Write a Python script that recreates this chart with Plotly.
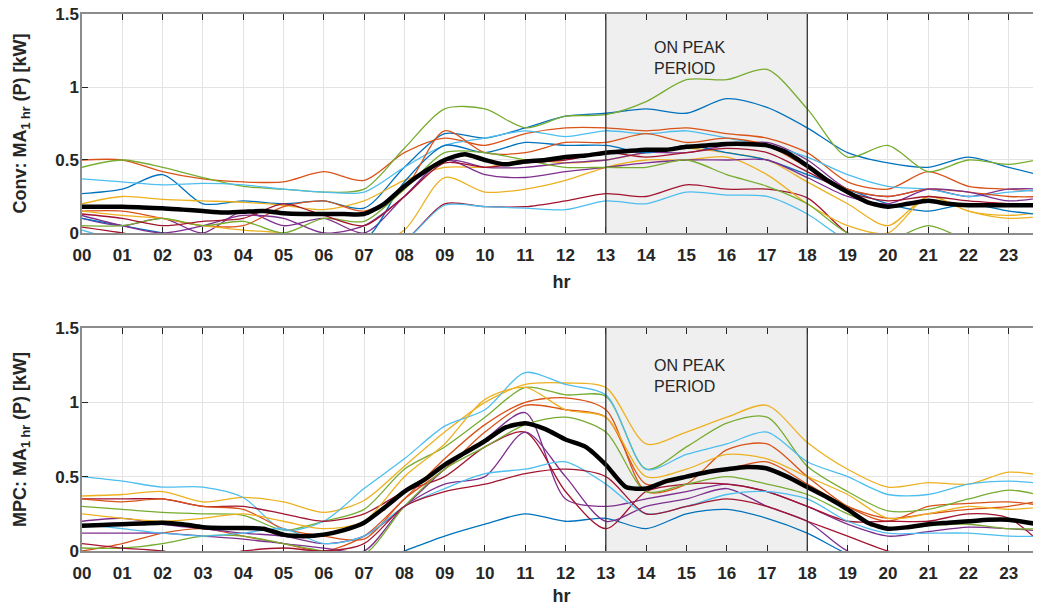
import plotly.graph_objects as go
from plotly.subplots import make_subplots

# ---------------- data ----------------
hours = list(range(25))                      # hourly sample points for individual traces
half_hours = [i * 0.5 for i in range(49)]    # half-hour sample points for the mean
tick_vals = list(range(24))
tick_text = [f"{h:02d}" for h in range(24)]

colors = ["#0072BD", "#D95319", "#EDB120", "#7E2F8E", "#77AC30", "#4DBEEE", "#A2142F"]

# Conventional control – individual households (hourly values, kW)
conv_blue1   = [0.27,0.30,0.40,0.20,0.22,0.20,0.22,0.17,0.45,0.68,0.65,0.72,0.80,0.82,0.85,0.82,0.92,0.86,0.72,0.55,0.48,0.45,0.52,0.45,0.38]
conv_orange1 = [0.50,0.50,0.42,0.37,0.35,0.35,0.42,0.36,0.55,0.65,0.60,0.68,0.72,0.72,0.70,0.72,0.68,0.65,0.55,0.35,0.30,0.42,0.32,0.30,0.28]
conv_yellow1 = [0.20,0.25,0.23,0.22,0.21,0.19,0.16,0.22,0.36,0.45,0.45,0.50,0.48,0.50,0.55,0.58,0.55,0.50,0.35,0.20,0.05,0.25,0.15,0.12,0.15]
conv_purple1 = [0.10,0.05,0.10,0.00,0.15,0.05,0.10,0.00,0.25,0.50,0.45,0.45,0.48,0.50,0.55,0.55,0.60,0.62,0.50,0.30,0.25,0.30,0.25,0.30,0.30]
conv_green1  = [0.45,0.50,0.45,0.38,0.32,0.30,0.28,0.30,0.58,0.85,0.85,0.72,0.80,0.81,0.90,1.05,1.05,1.12,0.85,0.52,0.60,0.42,0.50,0.47,0.52]
conv_lblue1  = [0.37,0.35,0.33,0.34,0.33,0.30,0.28,0.28,0.45,0.60,0.65,0.70,0.66,0.70,0.68,0.70,0.65,0.60,0.52,0.40,0.32,0.30,0.25,0.28,0.30]
conv_red1    = [0.04,0.00,-0.05,-0.05,-0.08,-0.08,-0.08,-0.10,-0.05,0.20,0.18,0.18,0.22,0.27,0.25,0.33,0.30,0.30,0.24,0.00,-0.10,-0.10,-0.10,-0.10,-0.10]
conv_blue2   = [0.10,0.05,0.00,-0.05,-0.05,-0.05,-0.05,-0.05,0.35,0.60,0.55,0.62,0.60,0.60,0.55,0.60,0.55,0.50,0.40,0.30,0.20,0.15,0.20,0.15,0.12]
conv_orange2 = [0.15,0.15,0.10,0.05,0.05,0.18,0.22,0.15,0.30,0.70,0.55,0.55,0.62,0.62,0.68,0.62,0.65,0.60,0.45,0.30,0.25,0.30,0.28,0.25,0.25]
conv_yellow2 = [0.15,0.12,0.10,0.05,0.02,0.00,-0.05,-0.10,0.02,0.38,0.28,0.30,0.36,0.45,0.50,0.50,0.52,0.40,0.20,0.05,0.00,0.25,0.15,0.10,0.12]
conv_purple2 = [0.12,0.05,0.00,0.05,0.12,0.10,0.00,0.05,0.25,0.50,0.40,0.38,0.42,0.45,0.48,0.50,0.50,0.50,0.38,0.25,0.20,0.30,0.28,0.22,0.25]
conv_green2  = [0.05,0.05,0.10,0.05,0.08,0.00,0.10,0.08,0.30,0.55,0.55,0.50,0.45,0.45,0.45,0.50,0.40,0.32,0.20,0.00,-0.05,0.05,-0.05,-0.10,-0.10]
conv_lblue2  = [0.02,-0.05,-0.05,-0.10,-0.10,-0.10,-0.10,-0.10,-0.05,0.19,0.18,0.17,0.16,0.22,0.20,0.28,0.26,0.25,0.13,-0.05,-0.10,-0.10,-0.10,-0.10,-0.10]
conv_red2    = [0.13,0.10,0.05,0.08,0.10,0.20,0.12,0.05,0.25,0.48,0.45,0.48,0.50,0.55,0.52,0.55,0.58,0.55,0.42,0.28,0.22,0.25,0.22,0.20,0.18]

conv_series = [conv_blue1, conv_orange1, conv_yellow1, conv_purple1, conv_green1, conv_lblue1, conv_red1,
               conv_blue2, conv_orange2, conv_yellow2, conv_purple2, conv_green2, conv_lblue2, conv_red2]

conv_mean = [0.18,0.18,0.18,0.175,0.17,0.16,0.15,0.14,0.145,0.15,0.135,0.13,0.13,0.13,0.13,0.20,
             0.32,0.42,0.50,0.54,0.50,0.47,0.49,0.50,0.52,0.53,0.55,0.56,0.57,0.57,0.59,0.60,
             0.61,0.61,0.60,0.55,0.46,0.36,0.28,0.21,0.18,0.20,0.22,0.20,0.19,0.19,0.19,0.19,0.19]

# MPC control – individual households (hourly values, kW)
mpc_blue1   = [-0.10,-0.10,-0.10,-0.10,-0.10,-0.10,-0.10,-0.10,0.00,0.10,0.18,0.25,0.20,0.22,0.15,0.25,0.28,0.22,0.12,-0.02,-0.10,-0.10,-0.10,-0.10,-0.10]
mpc_orange1 = [0.00,0.05,0.12,0.15,0.10,0.05,0.00,0.10,0.35,0.62,0.85,1.00,1.03,0.95,0.40,0.45,0.68,0.72,0.50,0.30,0.20,0.30,0.32,0.33,0.30]
mpc_yellow1 = [0.37,0.38,0.40,0.33,0.36,0.33,0.26,0.34,0.57,0.80,1.00,1.12,1.13,1.10,0.72,0.80,0.90,0.98,0.73,0.55,0.43,0.46,0.45,0.53,0.50]
mpc_purple1 = [0.20,0.22,0.18,0.15,0.12,0.10,0.05,0.10,0.30,0.55,0.75,0.93,0.35,0.30,0.35,0.40,0.45,0.40,0.30,0.18,0.10,0.13,0.16,0.15,0.13]
mpc_green1  = [0.30,0.28,0.26,0.25,0.24,0.14,0.20,0.28,0.55,0.70,0.90,1.10,1.05,1.04,0.55,0.70,0.86,0.90,0.57,0.40,0.27,0.28,0.35,0.41,0.36]
mpc_lblue1  = [0.50,0.47,0.43,0.43,0.36,0.14,0.20,0.42,0.62,0.84,0.95,1.20,1.12,1.05,0.55,0.65,0.72,0.80,0.60,0.50,0.38,0.38,0.45,0.47,0.45]
mpc_red1    = [0.35,0.35,0.35,0.30,0.30,0.25,0.20,0.25,0.40,0.50,0.70,0.80,0.40,0.15,0.40,0.45,0.45,0.40,0.30,0.20,0.20,0.20,0.25,0.22,0.00]
mpc_orange2 = [0.35,0.33,0.35,0.30,0.28,0.15,0.10,0.08,0.35,0.55,0.80,0.98,0.95,0.90,0.45,0.50,0.55,0.60,0.45,0.30,0.22,0.25,0.28,0.30,0.35]
mpc_yellow2 = [0.25,0.22,0.20,0.22,0.25,0.20,0.15,0.20,0.50,0.72,1.02,1.10,0.95,0.90,0.50,0.55,0.65,0.62,0.50,0.38,0.22,0.25,0.30,0.28,0.30]
mpc_purple2 = [0.12,0.12,0.12,0.10,0.08,0.05,0.02,0.00,0.30,0.45,0.50,0.80,0.50,0.20,0.30,0.35,0.42,0.30,0.20,0.00,-0.05,-0.10,-0.10,-0.10,-0.10]
mpc_green2  = [0.02,0.02,0.05,0.10,0.10,0.05,0.00,-0.02,0.30,0.55,0.70,0.85,0.90,0.80,0.40,0.45,0.50,0.45,0.38,0.25,0.15,0.17,0.18,0.15,0.15]
mpc_lblue2  = [0.18,0.15,0.12,0.10,0.12,0.15,0.05,0.10,0.30,0.42,0.52,0.55,0.60,0.45,0.25,0.30,0.38,0.40,0.35,0.20,0.12,0.12,0.12,0.10,0.10]
mpc_red2    = [0.05,0.02,0.00,-0.05,0.00,0.02,0.00,0.05,0.30,0.40,0.45,0.52,0.55,0.50,0.25,0.30,0.35,0.30,0.20,0.10,0.00,-0.05,-0.10,-0.10,-0.10]

mpc_series = [(mpc_blue1, 0), (mpc_orange1, 1), (mpc_yellow1, 2), (mpc_purple1, 3), (mpc_green1, 4),
              (mpc_lblue1, 5), (mpc_red1, 6), (mpc_orange2, 1), (mpc_yellow2, 2), (mpc_purple2, 3),
              (mpc_green2, 4), (mpc_lblue2, 5), (mpc_red2, 6)]

mpc_mean = [0.17,0.175,0.18,0.185,0.19,0.18,0.16,0.155,0.155,0.15,0.11,0.10,0.11,0.14,0.19,0.29,
            0.40,0.48,0.58,0.66,0.74,0.83,0.86,0.82,0.75,0.70,0.58,0.43,0.42,0.47,0.50,0.53,
            0.55,0.565,0.555,0.50,0.43,0.36,0.28,0.19,0.15,0.16,0.18,0.19,0.20,0.21,0.21,0.19,0.17]

peak_start, peak_end = 13, 18

# ---------------- figure ----------------
fig = make_subplots(rows=2, cols=1)

for i, s in enumerate(conv_series):
    fig.add_trace(go.Scatter(x=hours, y=s, mode="lines",
                             line=dict(color=colors[i % 7], width=1.3, shape="spline", smoothing=0.8),
                             showlegend=False, hoverinfo="skip"), row=1, col=1)
fig.add_trace(go.Scatter(x=half_hours, y=conv_mean, mode="lines",
                         line=dict(color="black", width=4.5, shape="spline", smoothing=0.6),
                         showlegend=False), row=1, col=1)

for s, ci in mpc_series:
    fig.add_trace(go.Scatter(x=hours, y=s, mode="lines",
                             line=dict(color=colors[ci], width=1.3, shape="spline", smoothing=0.8),
                             showlegend=False, hoverinfo="skip"), row=2, col=1)
fig.add_trace(go.Scatter(x=half_hours, y=mpc_mean, mode="lines",
                         line=dict(color="black", width=4.5, shape="spline", smoothing=0.6),
                         showlegend=False), row=2, col=1)

tick_font = dict(family="Liberation Sans, Arial, sans-serif", size=17, color="#262626")
title_font = dict(family="Liberation Sans, Arial, sans-serif", size=18, color="#262626")

for r, ylab in [(1, "<b>Conv: MA<sub>1 hr</sub> (P) [kW]</b>"), (2, "<b>MPC: MA<sub>1 hr</sub> (P) [kW]</b>")]:
    fig.update_xaxes(row=r, col=1, range=[0, 23.8], tickmode="array", tickvals=tick_vals,
                     ticktext=[f"<b>{t}</b>" for t in tick_text], tickfont=tick_font,
                     ticks="inside", ticklen=6, tickcolor="#262626", showline=True,
                     linecolor="#8c8c8c", linewidth=1.5, mirror="ticks", showgrid=True,
                     gridcolor="#e3e3e3", gridwidth=1, zeroline=False, automargin=False,
                     ticklabelstandoff=6,
                     title=dict(text="<b>hr</b>", font=title_font, standoff=11))
    fig.update_yaxes(row=r, col=1, range=[0, 1.5], tickmode="array", tickvals=[0, 0.5, 1, 1.5],
                     ticktext=["<b>0</b>", "<b>0.5</b>", "<b>1</b>", "<b>1.5</b>"], tickfont=tick_font,
                     ticks="inside", ticklen=6, tickcolor="#262626", showline=True,
                     linecolor="#8c8c8c", linewidth=1.5, mirror="ticks", showgrid=True,
                     gridcolor="#e3e3e3", gridwidth=1, zeroline=False, automargin=False,
                     ticklabelstandoff=-2, ticklabeloverflow="allow",
                     title=dict(text=ylab, font=title_font, standoff=24))

    xref = "x" if r == 1 else "x2"
    yref = "y" if r == 1 else "y2"
    fig.add_shape(type="rect", xref=xref, yref=yref, x0=peak_start, x1=peak_end, y0=0, y1=1.5,
                  fillcolor="#efefef", line=dict(width=0), layer="between")
    for xv in (peak_start, peak_end):
        fig.add_shape(type="line", xref=xref, yref=yref, x0=xv, x1=xv, y0=0, y1=1.5,
                      line=dict(color="#333333", width=1.3), layer="above")
    fig.add_annotation(xref=xref, yref=yref, x=14.15, y=1.345 if r == 1 else 1.32,
                       text="ON PEAK<br>PERIOD", showarrow=False, xanchor="left", yanchor="top",
                       align="left", font=dict(family="Liberation Sans, Arial, sans-serif", size=16,
                                               color="#262626"))

# plot-area positions (the page body adds an 8 px offset)
fig.update_yaxes(row=1, col=1, domain=[0.5922, 1.0])
fig.update_yaxes(row=2, col=1, domain=[0.0, 0.4153])

fig.update_layout(width=1033, height=598, margin=dict(l=74, r=0, t=6, b=55, autoexpand=False),
                  plot_bgcolor="white", paper_bgcolor="white", showlegend=False)

fig.write_html("out.html")
